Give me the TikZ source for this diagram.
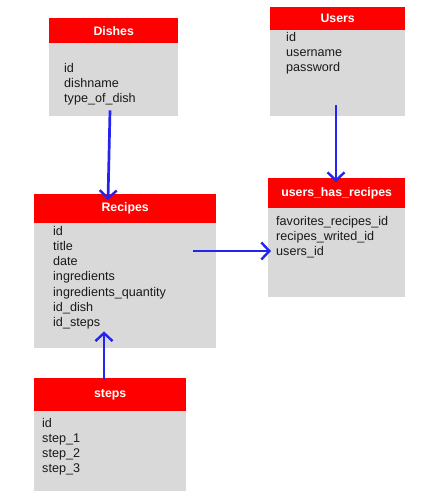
\documentclass[tikz,border=0pt]{standalone}
\usepackage{fontspec}
\setmainfont{Liberation Sans}
\usetikzlibrary{arrows.meta,calc}
\definecolor{hdr}{HTML}{FF0000}
\definecolor{bdy}{HTML}{D9D9D9}
\definecolor{arrc}{HTML}{2424F0}
\begin{document}
\begin{tikzpicture}[x=1pt,y=-1pt,
  hbox/.style={fill=hdr,draw=none,anchor=north west,inner sep=0,text=white,font=\fontsize{12.3}{14}\selectfont\bfseries},
  bbox/.style={fill=bdy,draw=none,anchor=north west,inner sep=0},
  ftext/.style={anchor=north west,inner sep=0,align=left,text=black!90,font=\fontsize{12.6}{15.2}\selectfont},
  arr/.style={draw=arrc,line width=2.7pt,-{Straight Barb[length=8pt,width=17pt,line width=2.4pt]}}]
\useasboundingbox[fill=white] (0,0) rectangle (424,502);
% Dishes
\node[hbox,minimum width=129pt,minimum height=25pt] (dh) at (49,18) {Dishes};
\node[bbox,minimum width=129pt,minimum height=73pt] (db) at (49,43) {};
\node[ftext] (dt) at (64,63) {id\\dishname\\type\_of\_dish};
% Users
\node[hbox,minimum width=135pt,minimum height=23pt] (uh) at (270,7) {Users};
\node[bbox,minimum width=135pt,minimum height=86pt] (ub) at (270,30) {};
\node[ftext] (ut) at (286,32) {id\\username\\password};
% Recipes
\node[hbox,minimum width=182pt,minimum height=29pt] (rh) at (34,194) {Recipes};
\node[bbox,minimum width=182pt,minimum height=125pt] (rb) at (34,223) {};
\node[ftext] (rt) at (53,226) {id\\title\\date\\ingredients\\ingredients\_quantity\\id\_dish\\id\_steps};
% users_has_recipes
\node[hbox,minimum width=137pt,minimum height=30pt] (uhrh) at (268,178) {users\_has\_recipes};
\node[bbox,minimum width=137pt,minimum height=89pt] (uhrb) at (268,208) {};
\node[ftext] (uhrt) at (276,216) {favorites\_recipes\_id\\recipes\_writed\_id\\users\_id};
% steps
\node[hbox,minimum width=152pt,minimum height=33pt] (sh) at (34,378) {steps};
\node[bbox,minimum width=152pt,minimum height=80pt] (sb) at (34,411) {};
\node[ftext] (st) at (42,418) {id\\step\_1\\step\_2\\step\_3};
% arrows
\draw[arr] ($(db.south west)+(61,-6)$) -- ($(rh.north west)+(74,6)$);
\draw[arr] ($(ub.south west)+(66,-11)$) -- ($(uhrh.north west)+(68,4)$);
\draw[arr] ($(rb.north west)+(159,28)$) -- ($(uhrb.north west)+(3,43)$);
\draw[arr] ($(sh.north west)+(70,2)$) -- ($(rb.south west)+(70,-17)$);
\end{tikzpicture}
\end{document}
